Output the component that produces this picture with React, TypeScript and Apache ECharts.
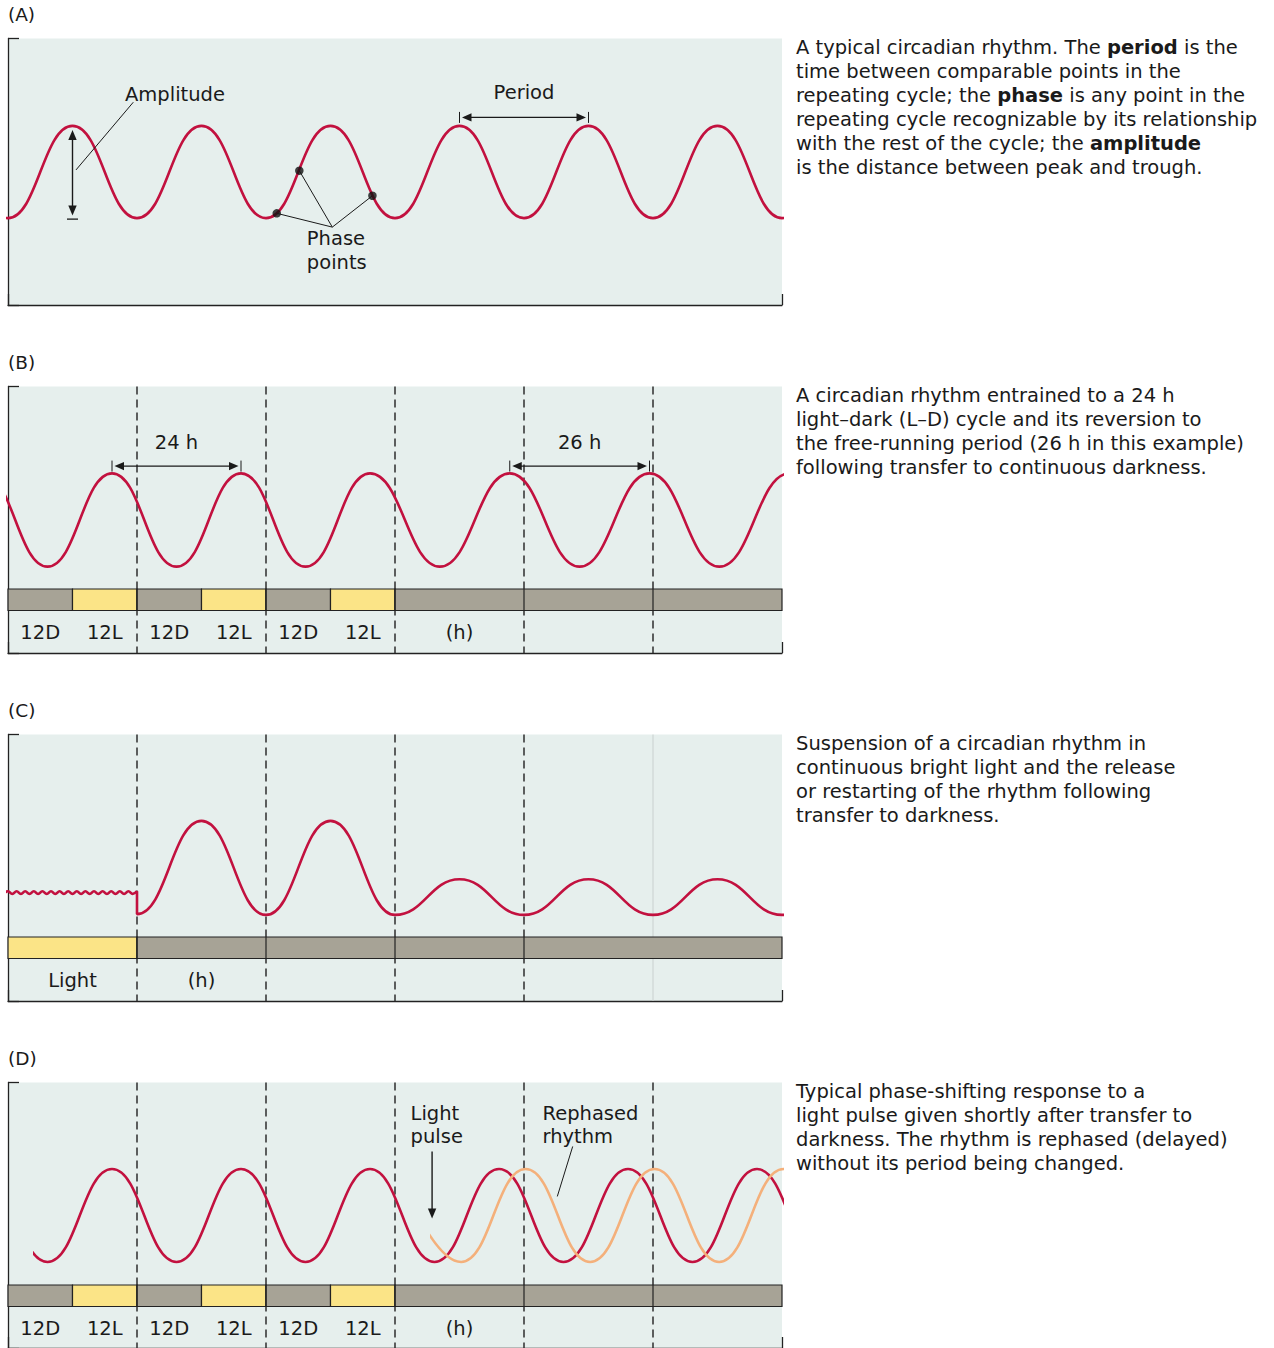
import React, { useEffect, useRef } from "react";
import * as echarts from "echarts";

// ---------------- data ----------------
const HOUR_MIN = 0;
const HOUR_MAX = 144;
const LEVEL_MIN = 0;
const LEVEL_MAX = 100;

// (A) typical rhythm: turning points (hour, level in % of panel height); outer points lie beyond the axis and are clipped
const rhythmAHours = [-12, 0, 12, 24, 36, 48, 60, 72, 84, 96, 108, 120, 132, 144, 156];
const rhythmALevels = [67.2, 32.6, 67.2, 32.6, 67.2, 32.6, 67.2, 32.6, 67.2, 32.6, 67.2, 32.6, 67.2, 32.6, 67.2];
const phasePointHours = [50.0, 54.2, 67.8];
const phasePointLevels = [34.4, 50.4, 41.0];
const periodSpanA = [84, 108];
const amplitudeHourA = 12;

// (B) entrained 24 h, then free-running 26 h
const rhythmBHours = [-16.65, -4.65, 7.35, 19.35, 31.35, 43.35, 55.35, 67.35, 80.35, 93.35, 106.35, 119.35, 132.35, 145.35, 158.35];
const rhythmBLevels = [32.4, 67.4, 32.4, 67.4, 32.4, 67.4, 32.4, 67.4, 32.4, 67.4, 32.4, 67.4, 32.4, 67.4, 32.4];
const periodSpanB24 = [19.35, 43.35];
const periodSpanB26 = [93.35, 119.35];

// (C) suspended in light, restarted in darkness
const lightRippleHours = [-0.8, 0, 0.8, 1.6, 2.4, 3.2, 4.0, 4.8, 5.6, 6.4, 7.2, 8.0, 8.8, 9.6, 10.4, 11.2, 12.0,
  12.8, 13.6, 14.4, 15.2, 16.0, 16.8, 17.6, 18.4, 19.2, 20.0, 20.8, 21.6, 22.4, 23.2, 24.0];
const lightRippleLevels = [40.2, 41.2, 40.2, 41.2, 40.2, 41.2, 40.2, 41.2, 40.2, 41.2, 40.2, 41.2, 40.2, 41.2, 40.2, 41.2, 40.2,
  41.2, 40.2, 41.2, 40.2, 41.2, 40.2, 41.2, 40.2, 41.2, 40.2, 41.2, 40.2, 41.2, 40.2, 41.2];
const rhythmCHours = [24, 24, 36, 48, 60, 72, 84, 96, 108, 120, 132, 144, 156];
const rhythmCLevels = [41.2, 32.6, 67.6, 32.3, 67.6, 32.3, 45.7, 32.3, 45.7, 32.3, 45.7, 32.3, 45.7];

// (D) phase shift by a light pulse
const rhythmDHours = [-16.65, -4.65, 7.35, 19.35, 31.35, 43.35, 55.35, 67.35, 79.35, 91.35, 103.35, 115.35, 127.35, 139.35, 151.35, 163.35];
const rhythmDLevels = [32.4, 67.4, 32.4, 67.4, 32.4, 67.4, 32.4, 67.4, 32.4, 67.4, 32.4, 67.4, 32.4, 67.4, 32.4, 67.4];
const rhythmDStartHour = 5.0;
const rephasedHours = [72.3, 84.3, 96.3, 108.3, 120.3, 132.3, 144.3, 156.3];
const rephasedLevels = [67.4, 32.4, 67.4, 32.4, 67.4, 32.4, 67.4, 32.4];
const lightPulseHour = 78.9;

// light / dark bars: [start h, end h, kind] kind 0 = dark, 1 = light
const ldSegments = [[0, 12, 0], [12, 24, 1], [24, 36, 0], [36, 48, 1], [48, 60, 0], [60, 72, 1], [72, 144, 0]];
const llSegments = [[0, 24, 1], [24, 144, 0]];
const ldLabelHours = [6, 18, 30, 42, 54, 66, 84];
const ldLabels = ["12D", "12L", "12D", "12L", "12D", "12L", "(h)"];
const llLabelHours = [12, 36];
const llLabels = ["Light", "(h)"];

// day boundaries: kind 0 = dashed, 1 = faint solid
const boundaryHours = [24, 48, 72, 96, 120];
const boundaryKindsBD = [0, 0, 0, 0, 0];
const boundaryKindsC = [0, 0, 0, 0, 1];

const panelLetters = ["(A)", "(B)", "(C)", "(D)"];

const captions = [
  [
    [["n", "A typical circadian rhythm. The "], ["b", "period"], ["n", " is the"]],
    [["n", "time between comparable points in the"]],
    [["n", "repeating cycle; the "], ["b", "phase"], ["n", " is any point in the"]],
    [["n", "repeating cycle recognizable by its relationship"]],
    [["n", "with the rest of the cycle; the "], ["b", "amplitude"]],
    [["n", "is the distance between peak and trough."]],
  ],
  [
    [["n", "A circadian rhythm entrained to a 24 h"]],
    [["n", "light\u2013dark (L\u2013D) cycle and its reversion to"]],
    [["n", "the free-running period (26 h in this example)"]],
    [["n", "following transfer to continuous darkness."]],
  ],
  [
    [["n", "Suspension of a circadian rhythm in"]],
    [["n", "continuous bright light and the release"]],
    [["n", "or restarting of the rhythm following"]],
    [["n", "transfer to darkness."]],
  ],
  [
    [["n", "Typical phase-shifting response to a"]],
    [["n", "light pulse given shortly after transfer to"]],
    [["n", "darkness. The rhythm is rephased (delayed)"]],
    [["n", "without its period being changed."]],
  ],
];

// ---------------- layout & style ----------------
const W = 1274;
const H = 1348;
const PLOT_LEFT = 8;
const PLOT_WIDTH = 774;
const PANEL_TOPS = [38.5, 386.5, 734.5, 1082.5];
const PANEL_H = 266.5;
const STRIP_OFFSET = 202.5;
const STRIP_H = 21.5;
const LABEL_OFFSET = 21.5;
const SMOOTH = 0.45;

const BG = "#e6efed";
const RED = "#c2113f";
const ORANGE = "#f4b07b";
const INK = "#1a1a1a";
const AXIS = "#222222";
const DARK_BAR = "#a7a396";
const LIGHT_BAR = "#fbe487";
const DASH = "#2e2e2e";
const FAINT = "#c9d0cf";
const FONT = '"DejaVu Sans", "Open Sans", sans-serif';
const LABEL_SIZE = 19.5;
const CAPTION_SIZE = 19.5;
const LETTER_SIZE = 18.5;

const hourPx = (h: number) => PLOT_LEFT + ((h - HOUR_MIN) / (HOUR_MAX - HOUR_MIN)) * PLOT_WIDTH;

function frameAxes(i: number) {
  const lineStyle = { color: AXIS, width: 1.3 };
  const common = {
    gridIndex: i,
    type: "value",
    axisLine: { show: true, onZero: false, lineStyle },
    axisTick: { show: true, inside: true, length: 11, lineStyle },
    axisLabel: { show: false },
    splitLine: { show: false },
  };
  return {
    x: { ...common, min: HOUR_MIN, max: HOUR_MAX, interval: HOUR_MAX - HOUR_MIN },
    y: { ...common, min: LEVEL_MIN, max: LEVEL_MAX, interval: LEVEL_MAX - LEVEL_MIN },
  };
}

function hiddenAxes(i: number, xmin: number, ymin: number, ymax: number) {
  return {
    x: { gridIndex: i, type: "value", show: false, min: xmin, max: HOUR_MAX },
    y: { gridIndex: i, type: "value", show: false, min: ymin, max: ymax },
  };
}

function textStyle(text: string, size: number, align: string, valign: string, lineHeight?: number) {
  const s: any = {
    text,
    fill: INK,
    fontSize: size,
    fontFamily: FONT,
    align,
    verticalAlign: valign,
    textAlign: align,
    textVerticalAlign: valign,
  };
  if (lineHeight) s.lineHeight = lineHeight;
  return s;
}

function waveSeries(gi: number, hours: number[], levels: number[], color: string, z: number) {
  return {
    type: "line",
    xAxisIndex: gi,
    yAxisIndex: gi,
    data: hours.map((h, i) => [h, levels[i]]),
    smooth: SMOOTH,
    smoothMonotone: "x",
    symbol: "none",
    showSymbol: false,
    clip: true,
    silent: true,
    lineStyle: { color, width: 2.6 },
    z,
  };
}

function boundarySeries(gi: number, kinds: number[]) {
  return {
    type: "custom",
    xAxisIndex: gi,
    yAxisIndex: gi,
    silent: true,
    z: 1,
    data: boundaryHours.map((h, i) => [h, kinds[i]]),
    renderItem: (params: any, api: any) => {
      const h = api.value(0);
      const faint = api.value(1) === 1;
      const p0 = api.coord([h, LEVEL_MAX]);
      const p1 = api.coord([h, LEVEL_MIN]);
      return {
        type: "line",
        shape: { x1: p0[0], y1: p0[1], x2: p1[0], y2: p1[1] },
        style: faint
          ? { stroke: FAINT, lineWidth: 1 }
          : { stroke: DASH, lineWidth: 1.5, lineDash: [8, 5] },
      };
    },
  };
}

function stripSeries(gi: number, segments: number[][]) {
  return {
    type: "custom",
    xAxisIndex: gi,
    yAxisIndex: gi,
    silent: true,
    z: 3,
    data: segments,
    renderItem: (params: any, api: any) => {
      const p0 = api.coord([api.value(0), 1]);
      const p1 = api.coord([api.value(1), 0]);
      return {
        type: "rect",
        shape: { x: p0[0], y: p0[1], width: p1[0] - p0[0], height: p1[1] - p0[1] },
        style: { fill: api.value(2) === 1 ? LIGHT_BAR : DARK_BAR, stroke: AXIS, lineWidth: 1.2 },
      };
    },
  };
}

function dividerSeries(gi: number, hours: number[]) {
  return {
    type: "custom",
    xAxisIndex: gi,
    yAxisIndex: gi,
    silent: true,
    z: 4,
    data: hours.map((h) => [h, 0]),
    renderItem: (params: any, api: any) => {
      const p0 = api.coord([api.value(0), 1]);
      const p1 = api.coord([api.value(0), 0]);
      return {
        type: "line",
        shape: { x1: p0[0], y1: p0[1], x2: p1[0], y2: p1[1] },
        style: { stroke: AXIS, lineWidth: 1.2 },
      };
    },
  };
}

function labelSeries(gi: number, hours: number[], labels: string[]) {
  return {
    type: "custom",
    xAxisIndex: gi,
    yAxisIndex: gi,
    silent: true,
    z: 4,
    data: hours.map((h, i) => [h, i]),
    renderItem: (params: any, api: any) => {
      const p = api.coord([api.value(0), 0]);
      return {
        type: "text",
        x: p[0],
        y: p[1] + LABEL_OFFSET,
        style: textStyle(labels[params.dataIndex], LABEL_SIZE, "center", "middle"),
      };
    },
  };
}

function buildOption() {
  const grids: any[] = [];
  const xAxes: any[] = [];
  const yAxes: any[] = [];

  PANEL_TOPS.forEach((top, i) => {
    grids.push({ left: PLOT_LEFT, top, width: PLOT_WIDTH, height: PANEL_H, show: true, backgroundColor: BG, borderWidth: 0, borderColor: "transparent" });
    const a = frameAxes(i);
    xAxes.push(a.x);
    yAxes.push(a.y);
  });
  [1, 2, 3].forEach((p, k) => {
    const gi = 4 + k;
    grids.push({ left: PLOT_LEFT, top: PANEL_TOPS[p] + STRIP_OFFSET, width: PLOT_WIDTH, height: STRIP_H });
    const a = hiddenAxes(gi, HOUR_MIN, 0, 1);
    xAxes.push(a.x);
    yAxes.push(a.y);
  });
  // panel D sub-areas where the red rhythm and the rephased rhythm begin
  [rhythmDStartHour, lightPulseHour].forEach((startH, k) => {
    const gi = 7 + k;
    const left = hourPx(startH);
    grids.push({ left, top: PANEL_TOPS[3], width: PLOT_LEFT + PLOT_WIDTH - left, height: PANEL_H });
    const a = hiddenAxes(gi, startH, LEVEL_MIN, LEVEL_MAX);
    xAxes.push(a.x);
    yAxes.push(a.y);
  });

  const series: any[] = [
    boundarySeries(1, boundaryKindsBD),
    boundarySeries(2, boundaryKindsC),
    boundarySeries(3, boundaryKindsBD),
    stripSeries(4, ldSegments),
    stripSeries(5, llSegments),
    stripSeries(6, ldSegments),
    dividerSeries(4, boundaryHours),
    dividerSeries(5, boundaryHours.filter((h, i) => boundaryKindsC[i] === 0)),
    dividerSeries(6, boundaryHours),
    labelSeries(4, ldLabelHours, ldLabels),
    labelSeries(5, llLabelHours, llLabels),
    labelSeries(6, ldLabelHours, ldLabels),
    waveSeries(0, rhythmAHours, rhythmALevels, RED, 5),
    waveSeries(1, rhythmBHours, rhythmBLevels, RED, 5),
    waveSeries(2, lightRippleHours, lightRippleLevels, RED, 5),
    waveSeries(2, rhythmCHours, rhythmCLevels, RED, 5),
    waveSeries(7, rhythmDHours, rhythmDLevels, RED, 5),
    waveSeries(8, rephasedHours, rephasedLevels, ORANGE, 6),
    {
      type: "scatter",
      xAxisIndex: 0,
      yAxisIndex: 0,
      silent: true,
      data: phasePointHours.map((h, i) => [h, phasePointLevels[i]]),
      symbol: "circle",
      symbolSize: 8.5,
      itemStyle: { color: "#111" },
      z: 10,
    },
  ];

  return {
    animation: false,
    backgroundColor: "#ffffff",
    grid: grids,
    xAxis: xAxes,
    yAxis: yAxes,
    series,
  };
}

// ---------------- annotation helpers ----------------
function line(x1: number, y1: number, x2: number, y2: number, w = 1.2) {
  return { type: "line", z: 20, shape: { x1, y1, x2, y2 }, style: { stroke: INK, lineWidth: w }, silent: true };
}
function poly(points: number[][]) {
  return { type: "polygon", z: 20, shape: { points }, style: { fill: INK }, silent: true };
}
function label(x: number, y: number, text: string, align = "left", size = LABEL_SIZE, lineHeight?: number) {
  return { type: "text", z: 20, x, y, style: textStyle(text, size, align, "middle", lineHeight), silent: true };
}
function hDoubleArrow(x1: number, x2: number, y: number) {
  return [
    line(x1, y - 5.5, x1, y + 5.5, 1),
    line(x2, y - 5.5, x2, y + 5.5, 1),
    line(x1 + 5, y, x2 - 5, y, 1.4),
    poly([[x1 + 2.5, y], [x1 + 12, y - 4.2], [x1 + 12, y + 4.2]]),
    poly([[x2 - 2.5, y], [x2 - 12, y - 4.2], [x2 - 12, y + 4.2]]),
  ];
}
function downHead(x: number, tipY: number) {
  return poly([[x, tipY], [x - 4.2, tipY - 10], [x + 4.2, tipY - 10]]);
}
function upHead(x: number, tipY: number) {
  return poly([[x, tipY], [x - 4.2, tipY + 10], [x + 4.2, tipY + 10]]);
}

function buildGraphics(chart: any) {
  const cp = (gi: number, h: number, lvl: number) => chart.convertToPixel({ gridIndex: gi }, [h, lvl]) as number[];
  const els: any[] = [];

  // panel letters and captions
  PANEL_TOPS.forEach((top, i) => {
    els.push(label(PLOT_LEFT, top - 24.5, panelLetters[i], "left", LETTER_SIZE));
    const text = captions[i].map((ln) => ln.map(([k, s]) => `{${k}|${s}}`).join("")).join("\n");
    els.push({
      type: "text",
      z: 20,
      x: 796,
      y: top - 3.5,
      silent: true,
      style: {
        text,
        fill: INK,
        fontSize: CAPTION_SIZE,
        fontFamily: FONT,
        align: "left",
        verticalAlign: "top",
        textAlign: "left",
        textVerticalAlign: "top",
        rich: {
          n: { fontSize: CAPTION_SIZE, fontFamily: FONT, fill: INK, lineHeight: 24 },
          b: { fontSize: CAPTION_SIZE, fontFamily: FONT, fill: INK, lineHeight: 24, fontWeight: "bold" },
        },
      },
    });
  });

  // (A) amplitude
  const [ax, aPeakY] = cp(0, amplitudeHourA, rhythmALevels[2]);
  const aTroughY = cp(0, rhythmAHours[1], rhythmALevels[1])[1];
  els.push(line(ax, aPeakY + 12, ax, aTroughY - 11, 1.4));
  els.push(upHead(ax, aPeakY + 4));
  els.push(downHead(ax, aTroughY - 2.5));
  els.push(line(ax - 5.5, aTroughY + 1, ax + 5.5, aTroughY + 1, 1.3));
  els.push(line(ax + 60.8, aPeakY - 23.7, ax + 3.5, aPeakY + 44, 1));
  els.push(label(ax + 52.5, aPeakY - 31.7, "Amplitude"));

  // (A) period
  const px1 = cp(0, periodSpanA[0], rhythmALevels[2])[0];
  const px2 = cp(0, periodSpanA[1], rhythmALevels[2])[0];
  els.push(...hDoubleArrow(px1, px2, aPeakY - 8.5));
  els.push(label((px1 + px2) / 2, aPeakY - 33, "Period", "center"));

  // (A) phase points
  const pts = phasePointHours.map((h, i) => cp(0, h, phasePointLevels[i]));
  const conv = [pts[1][0] + 33, aTroughY + 9];
  pts.forEach((p) => els.push(line(p[0], p[1], conv[0], conv[1], 1)));
  els.push(label(conv[0] - 25.5, conv[1] + 23.3, "Phase\npoints", "left", LABEL_SIZE, 23.5));

  // (B) periods
  const bPeakY = cp(1, periodSpanB24[0], rhythmBLevels[3])[1];
  [[periodSpanB24, "24 h"], [periodSpanB26, "26 h"]].forEach(([span, txt]: any) => {
    const x1 = cp(1, span[0], rhythmBLevels[3])[0];
    const x2 = cp(1, span[1], rhythmBLevels[3])[0];
    els.push(...hDoubleArrow(x1, x2, bPeakY - 7.3));
    els.push(label((x1 + x2) / 2, bPeakY - 31, txt, "center"));
  });

  // (D) light pulse and rephased rhythm
  const dPeakY = cp(3, rhythmDHours[3], rhythmDLevels[3])[1];
  const lx = cp(3, lightPulseHour, 0)[0];
  els.push(line(lx, dPeakY - 17.6, lx, dPeakY + 42, 1.4));
  els.push(downHead(lx, dPeakY + 49.5));
  els.push(label(lx - 21.5, dPeakY - 44.3, "Light\npulse", "left", LABEL_SIZE, 23.5));
  const xb = cp(3, boundaryHours[3], 0)[0];
  els.push(label(xb + 18.5, dPeakY - 44.3, "Rephased\nrhythm", "left", LABEL_SIZE, 23.5));
  els.push(line(xb + 48.7, dPeakY - 22.6, xb + 33.3, dPeakY + 27.4, 1));

  return els;
}

export default function App() {
  const ref = useRef<HTMLDivElement>(null);
  useEffect(() => {
    if (!ref.current) return;
    const chart = echarts.init(ref.current, undefined, { renderer: "svg", width: W, height: H });
    chart.setOption(buildOption() as any);
    chart.setOption({ graphic: { elements: buildGraphics(chart) } } as any);
    return () => chart.dispose();
  }, []);
  return (
    <div
      ref={ref}
      style={{ position: "absolute", left: 0, top: 0, width: W, height: H, background: "#fff" }}
    />
  );
}
